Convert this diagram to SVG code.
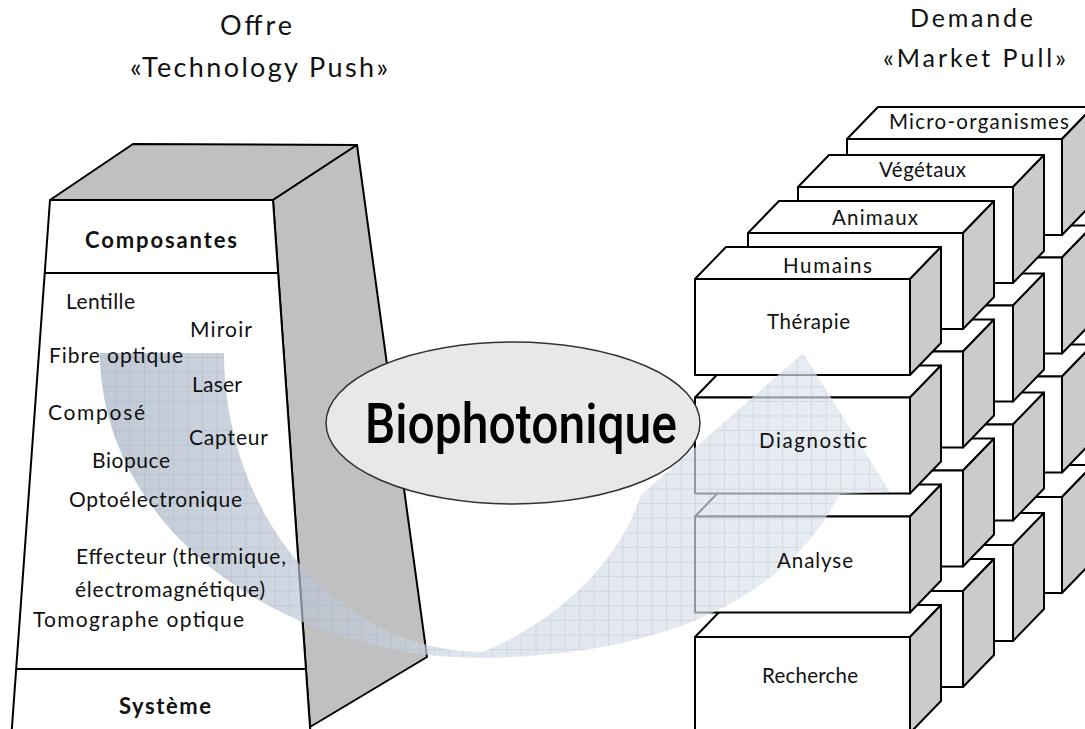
<svg xmlns="http://www.w3.org/2000/svg" xmlns:xlink="http://www.w3.org/1999/xlink" width="1085" height="729" viewBox="0 0 1085 729">
<defs>
<style>
.t{font-family:Lato,'Open Sans','DejaVu Sans',sans-serif;fill:#111}
.ti{font-size:27px}
.tr{font-size:25px}
.hd{font-size:22px;font-weight:bold}
.it{font-size:21px}
.bl{font-size:20.5px}
.bio{font-family:Roboto,'Liberation Sans',sans-serif;font-size:55px;font-weight:500;fill:#000}
.pf{fill:#fff;stroke:#000;stroke-width:2}
.pg{fill:#c0c0c0;stroke:#000;stroke-width:2;stroke-linejoin:round}
.pl{stroke:#000;stroke-width:2}
.bf{fill:#fff;stroke:#000;stroke-width:2;stroke-linejoin:round}
.bs{fill:#cbcbcb;stroke:#000;stroke-width:2;stroke-linejoin:round}
</style>
<g id="cube">
<polygon class="bf" points="0,0 31,-32 246,-32 215,0"/>
<polygon class="bs" points="215,0 246,-32 246,64 215,96"/>
<rect class="bf" x="0" y="0" width="215" height="96"/>
</g>
<linearGradient id="bandGrad" gradientUnits="userSpaceOnUse" x1="100" y1="0" x2="890" y2="0">
<stop offset="0" stop-color="#a3b0c2"/>
<stop offset="0.5" stop-color="#d3dbe6"/>
<stop offset="1" stop-color="#dfe5ee"/>
</linearGradient>
<pattern id="grid" patternUnits="userSpaceOnUse" x="13.5" y="6.7" width="14.5" height="14.6">
<path d="M0 0.5H14.5M0.5 0V14.6" stroke="#8c98aa" stroke-width="1" fill="none"/>
</pattern>
</defs>
<rect width="1085" height="729" fill="#fff"/>

<g id="title-offre">
<text class="t ti" x="220" y="35" textLength="72" lengthAdjust="spacing">Offre</text>
<text class="t ti" x="130" y="77" textLength="258" lengthAdjust="spacing">«Technology Push»</text>
</g>
<g id="title-demande">
<text class="t tr" x="910" y="27" textLength="123" lengthAdjust="spacing">Demande</text>
<text class="t tr" x="883" y="67" textLength="183" lengthAdjust="spacing">«Market Pull»</text>
</g>

<g id="pillar">
<polygon class="pg" points="50,200 133,144 357,145 273,200"/>
<polygon class="pg" points="273,200 357,145 427,657 310,727"/>
<polygon class="pf" points="50,200 273,200 310.3,731 11.7,731"/>
<line class="pl" x1="44.7" y1="273" x2="278.1" y2="273"/>
<line class="pl" x1="16.2" y1="669" x2="305.9" y2="669"/>
</g>

<g id="cubes">
<g id="box-micro-recherche" transform="translate(847,497)"><use xlink:href="#cube"/></g>
<g id="box-micro-analyse" transform="translate(847,376.5)"><use xlink:href="#cube"/></g>
<g id="box-micro-diagnostic" transform="translate(847,257.5)"><use xlink:href="#cube"/></g>
<g id="box-micro-therapie" transform="translate(847,139)"><use xlink:href="#cube"/></g>
<g id="box-vegetaux-recherche" transform="translate(798,545)"><use xlink:href="#cube"/></g>
<g id="box-vegetaux-analyse" transform="translate(798,424.5)"><use xlink:href="#cube"/></g>
<g id="box-vegetaux-diagnostic" transform="translate(798,305.5)"><use xlink:href="#cube"/></g>
<g id="box-vegetaux-therapie" transform="translate(798,187)"><use xlink:href="#cube"/></g>
<g id="box-animaux-recherche" transform="translate(748,591)"><use xlink:href="#cube"/></g>
<g id="box-animaux-analyse" transform="translate(748,470.5)"><use xlink:href="#cube"/></g>
<g id="box-animaux-diagnostic" transform="translate(748,351.5)"><use xlink:href="#cube"/></g>
<g id="box-animaux-therapie" transform="translate(748,233)"><use xlink:href="#cube"/></g>
<g id="box-humains-recherche" transform="translate(695,637)"><use xlink:href="#cube"/></g>
<g id="box-humains-analyse" transform="translate(695,516.5)"><use xlink:href="#cube"/></g>
<g id="box-humains-diagnostic" transform="translate(695,397.5)"><use xlink:href="#cube"/></g>
<g id="box-humains-therapie" transform="translate(695,279)"><use xlink:href="#cube"/></g>
</g>

<g id="connectors">
<g id="arrow-push-pull">
<path d="M100 353A383 305 0 0 0 483 658C680 655 790 590 840 494L890 492L803 353L641 495C620 560 560 620 483 652A259 299 0 0 1 224 353Z" fill="url(#bandGrad)" opacity="0.68"/>
<path d="M100 353A383 305 0 0 0 483 658C680 655 790 590 840 494L890 492L803 353L641 495C620 560 560 620 483 652A259 299 0 0 1 224 353Z" fill="url(#grid)" opacity="0.22"/>
</g>
</g>

<g id="pillar-labels">
<text class="t hd" x="85" y="248" textLength="152" lengthAdjust="spacing">Composantes</text>
<text class="t it" x="66" y="309" textLength="69" lengthAdjust="spacing">Lentille</text>
<text class="t it" x="190" y="337" textLength="62" lengthAdjust="spacing">Miroir</text>
<text class="t it" x="49" y="363" textLength="134" lengthAdjust="spacing">Fibre optique</text>
<text class="t it" x="192" y="391.5" textLength="50" lengthAdjust="spacing">Laser</text>
<text class="t it" x="48" y="420" textLength="97" lengthAdjust="spacing">Composé</text>
<text class="t it" x="189" y="445" textLength="79" lengthAdjust="spacing">Capteur</text>
<text class="t it" x="92" y="467.5" textLength="78" lengthAdjust="spacing">Biopuce</text>
<text class="t it" x="69" y="507" textLength="173" lengthAdjust="spacing">Optoélectronique</text>
<text class="t it" x="76" y="564" textLength="210" lengthAdjust="spacing">Effecteur (thermique,</text>
<text class="t it" x="75" y="597" textLength="190" lengthAdjust="spacing">électromagnétique)</text>
<text class="t it" x="33" y="626.5" textLength="211" lengthAdjust="spacing">Tomographe optique</text>
<text class="t hd" x="119" y="713.5" textLength="92" lengthAdjust="spacing">Système</text>
</g>

<g id="cube-labels">
<text class="t bl" x="783" y="273" textLength="89" lengthAdjust="spacing">Humains</text>
<text class="t bl" x="832" y="225" textLength="86" lengthAdjust="spacing">Animaux</text>
<text class="t bl" x="879" y="177" textLength="87" lengthAdjust="spacing">Végétaux</text>
<text class="t bl" x="889" y="129" textLength="180" lengthAdjust="spacing">Micro-organismes</text>
<text class="t bl" x="767" y="329" textLength="83" lengthAdjust="spacing">Thérapie</text>
<text class="t bl" x="759" y="448" textLength="108" lengthAdjust="spacing">Diagnostic</text>
<text class="t bl" x="777" y="568" textLength="76" lengthAdjust="spacing">Analyse</text>
<text class="t bl" x="762" y="683" textLength="96" lengthAdjust="spacing">Recherche</text>
</g>

<g id="biophotonique">
<ellipse cx="513" cy="423" rx="187" ry="81" fill="#e8e8e8" stroke="#333" stroke-width="1.5"/>
<text class="bio" x="365" y="443" textLength="312" lengthAdjust="spacingAndGlyphs">Biophotonique</text>
</g>
</svg>
